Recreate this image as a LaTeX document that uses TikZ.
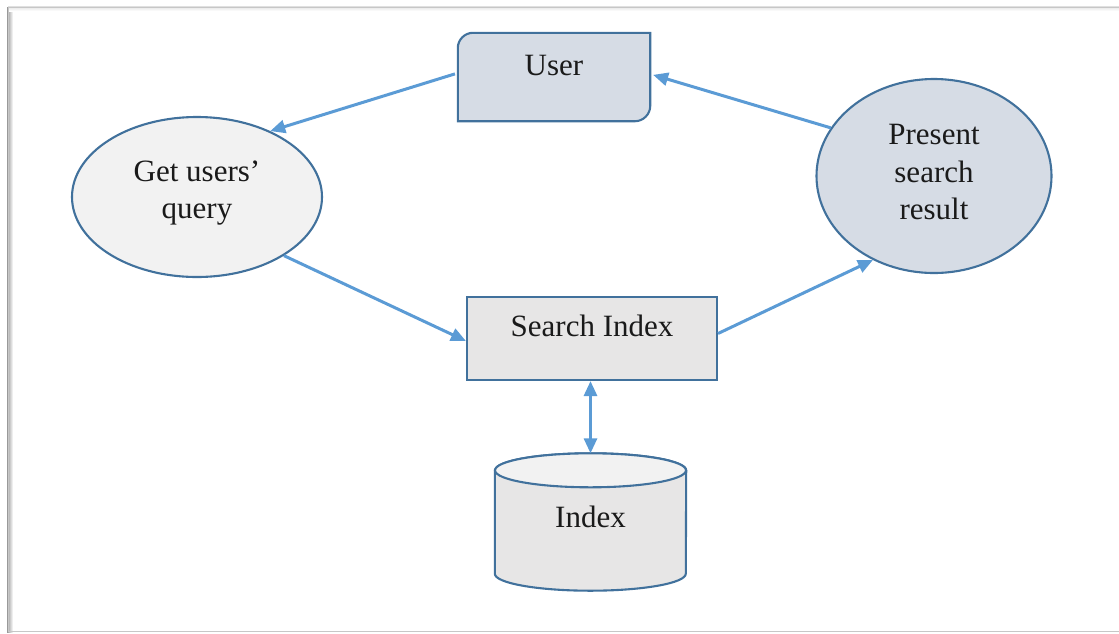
\documentclass[tikz,border=0pt]{standalone}
\usepackage{fontspec}
\setmainfont{Liberation Serif}
\usetikzlibrary{arrows.meta,shapes.geometric,backgrounds}
\definecolor{edgeblue}{HTML}{41719C}
\definecolor{arrowblue}{HTML}{5B9BD5}
\definecolor{bluefill}{HTML}{D6DCE5}
\definecolor{grayfill}{HTML}{E7E6E6}
\definecolor{lightfill}{HTML}{F2F2F2}
\definecolor{inkcol}{HTML}{1A1A1A}
\begin{document}
\begin{tikzpicture}[x=1pt,y=-1pt,
  every node/.style={font=\fontsize{31}{37.5}\selectfont, text=inkcol},
  outline/.style={draw=edgeblue, line width=2.1pt},
  flow/.style={draw=arrowblue, line width=3pt, -{Triangle[length=15pt,width=13pt]}},
  flowboth/.style={draw=arrowblue, line width=3pt,
    {Triangle[length=15pt,width=13pt]}-{Triangle[length=15pt,width=13pt]}},
  oval/.style={ellipse, outline, inner sep=0pt, align=center},
]
\useasboundingbox (0,0) rectangle (1119,633);

% page frame with a soft shadow
\fill[left color=black!40, right color=white] (7,7) rectangle (13,632);
\fill[top color=black!12, bottom color=white] (8,6) rectangle (1119,11);
\draw[black!22, line width=1pt] (1119,7) -- (8,7) -- (8,631) -- (1119,631);

% nodes
\node[minimum width=192pt, inner sep=2pt, text height=40pt, text depth=44pt] (user) at (554,77) {User};
\node[oval, fill=lightfill, minimum width=250pt, minimum height=160pt] (get) at (197,197) {Get users’\\query\rule[-15pt]{0pt}{15pt}};
\node[oval, fill=bluefill, minimum width=235pt, minimum height=194pt] (present) at (934,176) {Present\\search\\result\rule[-8pt]{0pt}{8pt}};
\node[outline, fill=grayfill, minimum width=250pt, inner sep=2pt, text height=37pt, text depth=42pt] (search) at (592,338.5) {Search Index};
\node[inner sep=0pt, minimum width=191pt, text height=73.5pt, text depth=63.5pt] (index) at (590.5,522) {Index};

\begin{scope}[on background layer]
  % user box with two rounded corners
  \draw[outline, fill=bluefill]
    (user.south west) -- ([yshift=-15pt]user.north west)
    .. controls ([yshift=-7pt]user.north west) and ([xshift=7pt]user.north west) .. ([xshift=15pt]user.north west)
    -- (user.north east) -- ([yshift=15pt]user.south east)
    .. controls ([yshift=7pt]user.south east) and ([xshift=-7pt]user.south east) .. ([xshift=-15pt]user.south east)
    -- cycle;
  % index cylinder
  \draw[outline, fill=grayfill]
    ([yshift=-17pt]index.north west) -- ([yshift=17pt]index.south west)
    arc[start angle=180, end angle=0, x radius=95.5, y radius=17]
    -- ([yshift=-17pt]index.north east)
    arc[start angle=0, end angle=-180, x radius=95.5, y radius=17] -- cycle;
  \draw[outline, fill=lightfill] ([yshift=-17pt]index.north) ellipse[x radius=95.5, y radius=17];
\end{scope}

% connectors
\draw[flow, shorten <=3pt] ([yshift=4pt]user.west) -- (get.42);
\draw[flow] (get.-34) -- ([yshift=-2.5pt]search.west);
\draw[flow] ([yshift=5pt]search.east) -- (present.-126);
\draw[flow, shorten >=3pt] (present.155) -- ([yshift=3pt]user.east);
\draw[flowboth] (search.south -| index.north) -- (index.north);
\end{tikzpicture}
\end{document}
